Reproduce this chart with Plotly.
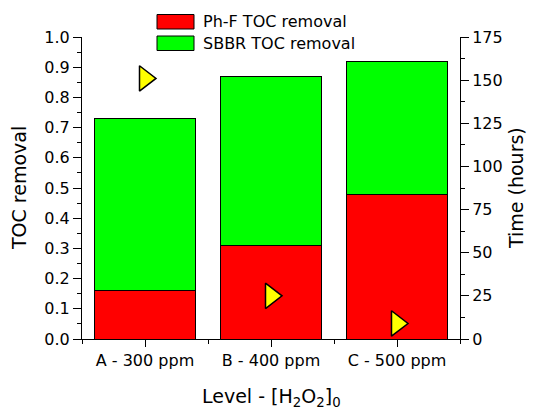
import plotly.graph_objects as go

categories = ["A - 300 ppm", "B - 400 ppm", "C - 500 ppm"]
phf_toc_removal = [0.16, 0.31, 0.48]
total_toc_removal = [0.73, 0.87, 0.92]
sbbr_toc_removal = [round(t - p, 3) for t, p in zip(total_toc_removal, phf_toc_removal)]
time_hours = [151, 25, 9]
legend_labels = ["Ph-F TOC removal", "SBBR TOC removal"]
bar_colors = ["#FF0000", "#00FF00"]

FONT = "Verdana, DejaVu Sans, sans-serif"
xpos = list(range(len(categories)))

fig = go.Figure()
fig.add_trace(go.Bar(x=xpos, y=phf_toc_removal, name=legend_labels[0], width=0.8,
                     marker=dict(color=bar_colors[0], line=dict(color="black", width=1))))
fig.add_trace(go.Bar(x=xpos, y=sbbr_toc_removal, name=legend_labels[1], width=0.8,
                     marker=dict(color=bar_colors[1], line=dict(color="black", width=1))))
fig.add_trace(go.Scatter(x=xpos, y=time_hours, yaxis="y2", mode="markers", showlegend=False,
                         marker=dict(symbol="triangle-right", size=22, color="#FFFF00",
                                     line=dict(color="black", width=1.5))))

# page body has an 8px margin: figure is offset by 8px in the screenshot
OFF = 8
FIG_W, FIG_H = 536 - OFF, 411 - OFF
L, T, W, H = 82, 37, 378, 302   # plot area in screen pixels
def px(x): return (x - L) / W
def py(y): return (T + H - y) / H

# custom legend (swatches + labels)
swatches = [(157, 14.5, 194, 29), (157, 36, 194, 50.5)]
for (x0, y0, x1, y1), col, lab in zip(swatches, bar_colors, legend_labels):
    fig.add_shape(type="rect", xref="paper", yref="paper", x0=px(x0), x1=px(x1), y0=py(y1), y1=py(y0),
                  fillcolor=col, line=dict(color="black", width=1))
    fig.add_annotation(xref="paper", yref="paper", x=px(201), y=py((y0 + y1) / 2), text=lab,
                       showarrow=False, xanchor="left", yanchor="middle",
                       font=dict(family=FONT, size=16, color="black"))

# axis titles
title_font = dict(family=FONT, size=19, color="black")
fig.add_annotation(xref="paper", yref="paper", x=px(L + W / 2), y=py(397), text="Level - [H<sub>2</sub>O<sub>2</sub>]<sub>0</sub>",
                   showarrow=False, xanchor="center", yanchor="middle", font=title_font)
fig.add_annotation(xref="paper", yref="paper", x=px(19), y=py(T + H / 2), text="TOC removal", textangle=-90,
                   showarrow=False, xanchor="center", yanchor="middle", font=title_font)
fig.add_annotation(xref="paper", yref="paper", x=px(516), y=py(T + H / 2), text="Time (hours)", textangle=-90,
                   showarrow=False, xanchor="center", yanchor="middle", font=title_font)

fig.update_layout(
    width=FIG_W, height=FIG_H,
    margin=dict(l=L - OFF, r=FIG_W - (L - OFF) - W, t=T - OFF, b=FIG_H - (T - OFF) - H, autoexpand=False),
    barmode="stack", showlegend=False,
    plot_bgcolor="white", paper_bgcolor="white",
    font=dict(family=FONT, size=16, color="black"),
    xaxis=dict(range=[-0.5, 2.5], tickmode="array", tickvals=xpos, ticktext=categories,
               showline=True, linecolor="black", linewidth=1, ticks="outside", ticklen=7,
               tickcolor="black", showgrid=False, zeroline=False, automargin=False,
               minor=dict(tickmode="array", tickvals=[-0.5, 0.5, 1.5, 2.5], ticks="outside",
                          ticklen=4, tickcolor="black", showgrid=False)),
    yaxis=dict(range=[0, 1.0], dtick=0.1, tickformat=".1f", showline=True, linecolor="black",
               linewidth=1, ticks="outside", ticklen=8, tickcolor="black", showgrid=False,
               zeroline=False, automargin=False,
               minor=dict(dtick=0.05, ticks="outside", ticklen=4, tickcolor="black", showgrid=False)),
    yaxis2=dict(range=[0, 175], dtick=25, overlaying="y", side="right", showline=True,
                linecolor="black", linewidth=1, ticks="outside", ticklen=8, tickcolor="black",
                showgrid=False, zeroline=False, automargin=False,
                minor=dict(dtick=12.5, ticks="outside", ticklen=4, tickcolor="black", showgrid=False)),
)

fig.write_html("out.html")
